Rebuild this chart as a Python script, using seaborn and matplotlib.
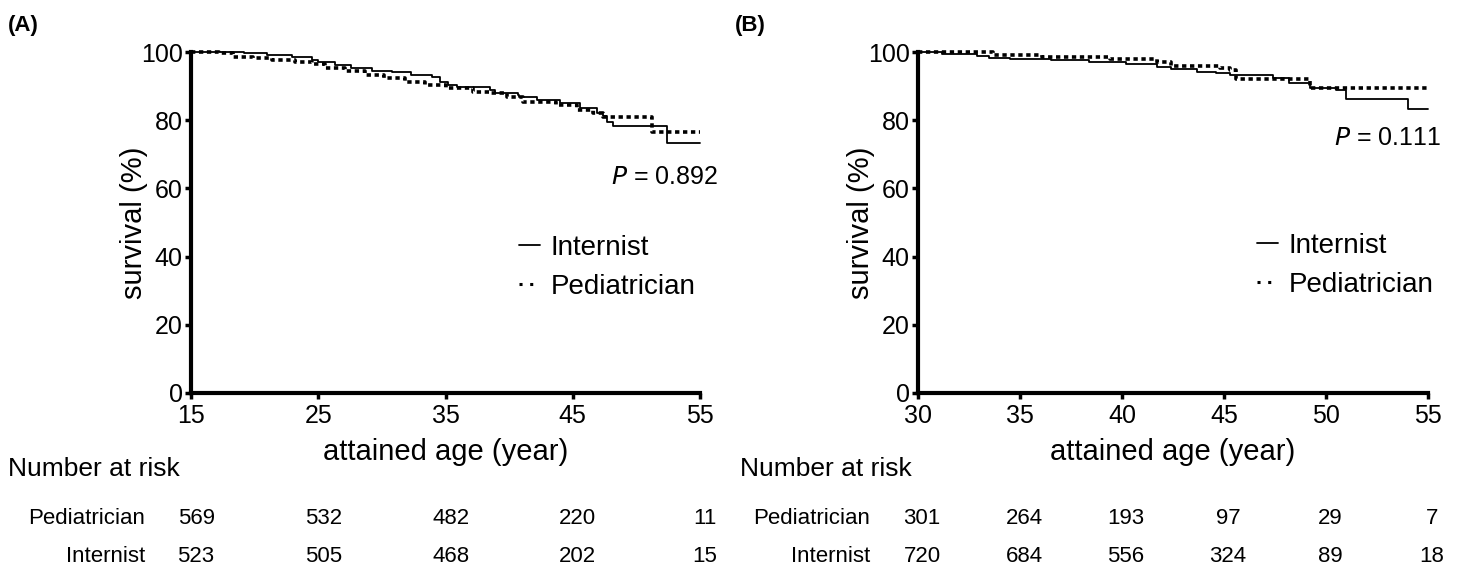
import matplotlib
matplotlib.use("Agg")
import matplotlib.pyplot as plt
import matplotlib.transforms as mtransforms
from matplotlib.lines import Line2D
import seaborn as sns
import pandas as pd

# ---------------- data ----------------
# Panel A: step change points (age, survival %)
a_int_age = [15, 17.5, 19.2, 21.0, 22.9, 24.5, 25.0, 26.3, 27.6, 29.2, 30.8, 32.3, 33.9, 34.6,
             35.2, 35.9, 38.5, 38.9, 40.7, 40.8, 42.2, 44.0, 45.6, 46.9, 47.4, 47.7, 48.2, 52.4, 55]
a_int_surv = [100, 99.9, 99.6, 99.2, 98.4, 97.8, 97.0, 96.2, 95.3, 94.5, 94.0, 93.4, 92.6, 91.2,
              90.4, 89.6, 88.9, 88.1, 87.4, 86.7, 85.9, 85.0, 83.5, 82.0, 81.2, 79.6, 78.3, 73.4, 73.4]
a_ped_age = [15, 17.2, 18.3, 19.9, 21.4, 23.2, 24.5, 25.5, 27.1, 28.7, 30.2, 31.8, 33.4, 35.0,
             37.2, 38.5, 39.8, 41.1, 43.7, 45.3, 46.6, 47.4, 51.2, 55]
a_ped_surv = [100, 99.6, 98.6, 98.1, 97.6, 97.0, 96.4, 95.4, 94.3, 93.3, 92.3, 91.3, 90.3, 89.4,
              88.4, 87.9, 86.7, 85.4, 84.5, 83.0, 82.0, 81.0, 76.6, 76.6]

# Panel B
b_int_age = [30, 31.2, 32.9, 33.5, 34.5, 36.5, 38.4, 40.2, 41.7, 42.4, 43.7, 44.6, 45.3, 47.4,
             48.2, 49.2, 50.5, 51.0, 54.0, 55]
b_int_surv = [100, 99.4, 98.9, 98.3, 97.9, 97.6, 97.0, 96.4, 95.5, 94.9, 94.2, 93.7, 93.3, 92.3,
              90.8, 89.4, 88.9, 86.1, 83.2, 83.2]
b_ped_age = [30, 33.7, 36.1, 39.4, 41.7, 42.4, 44.8, 45.3, 45.6, 49.2, 55]
b_ped_surv = [100, 99.1, 98.4, 97.9, 97.0, 96.0, 95.2, 94.7, 92.0, 89.3, 89.3]

a_ticks = [15, 25, 35, 45, 55]
b_ticks = [30, 35, 40, 45, 50, 55]
y_ticks = [0, 20, 40, 60, 80, 100]

a_risk_ped = [569, 532, 482, 220, 11]
a_risk_int = [523, 505, 468, 202, 15]
b_risk_ped = [301, 264, 193, 97, 29, 7]
b_risk_int = [720, 684, 556, 324, 89, 18]

a_pval = "0.892"
b_pval = "0.111"

# ---------------- style ----------------
sns.set_style("ticks")
plt.rcParams['font.family'] = ['Liberation Sans', 'DejaVu Sans']
plt.rcParams.update({"text.color": "black", "axes.labelcolor": "black",
                     "xtick.color": "black", "ytick.color": "black",
                     "axes.edgecolor": "black"})

fig = plt.figure(figsize=(14.61, 5.70), dpi=100)

W, H = 1461, 570
def ax_rect(x0, x1, ytop, ybot):
    return [x0 / W, 1 - ybot / H, (x1 - x0) / W, (ybot - ytop) / H]

axA = fig.add_axes(ax_rect(191, 700, 52, 393))
axB = fig.add_axes(ax_rect(918, 1428, 52, 393))

def draw_panel(ax, ia, isv, pa, psv, xlim, ticks, pval, ptxt_xy, leg_anchor):
    df_i = pd.DataFrame({"age": ia, "surv": isv})
    df_p = pd.DataFrame({"age": pa, "surv": psv})
    sns.lineplot(data=df_i, x="age", y="surv", ax=ax, color="black", lw=1.3,
                 drawstyle="steps-post", estimator=None, sort=False, clip_on=False)
    sns.lineplot(data=df_p, x="age", y="surv", ax=ax, color="black", lw=2.6,
                 linestyle=(0, (1.2, 1.0)), drawstyle="steps-post", estimator=None,
                 sort=False, clip_on=False)
    ax.set_xlim(*xlim)
    ax.set_ylim(0, 100)
    ax.set_xticks(ticks)
    ax.set_yticks(y_ticks)
    sns.despine(ax=ax)
    for s in ("left", "bottom"):
        ax.spines[s].set_linewidth(3)
    ax.tick_params(axis="both", length=4, width=2.5, labelsize=18, pad=2)
    ax.tick_params(axis="x", pad=4)
    ax.set_xlabel("attained age (year)", fontsize=21, labelpad=7)
    ax.set_ylabel("survival (%)", fontsize=21, labelpad=-5)
    ax.text(ptxt_xy[0], ptxt_xy[1], "$\\mathit{P}$ = " + pval, transform=ax.transAxes,
            ha="right", va="center", fontsize=18)
    handles = [Line2D([], [], color="black", lw=1.3),
               Line2D([], [], color="black", lw=2.2, linestyle=(0, (1.0, 2.5)))]
    ax.legend(handles, ["Internist", "Pediatrician"], loc="upper left",
              bbox_to_anchor=leg_anchor, frameon=False, fontsize=20,
              handlelength=0.75, handletextpad=0.4, labelspacing=0.45,
              borderaxespad=0, borderpad=0)

draw_panel(axA, a_int_age, a_int_surv, a_ped_age, a_ped_surv, (15, 55), a_ticks, a_pval,
           ((718 - 191) / 509, 1 - (177 - 52) / 341), ((519 - 191) / 509, 1 - (235 - 52) / 341))
draw_panel(axB, b_int_age, b_int_surv, b_ped_age, b_ped_surv, (30, 55), b_ticks, b_pval,
           ((1441 - 918) / 510, 1 - (138 - 52) / 341), ((1257 - 918) / 510, 1 - (233 - 52) / 341))

# panel letters
fig.text(8 / W, 1 - 25 / H, "(A)", fontsize=16, fontweight="bold", ha="left", va="center")
fig.text(735 / W, 1 - 25 / H, "(B)", fontsize=16, fontweight="bold", ha="left", va="center")

# number at risk tables
def risk_table(ax, x_text, x_rowlab, ticks, ped, inte):
    fig.text(x_text / W, 1 - 469 / H, "Number at risk", fontsize=19, ha="left", va="center")
    fig.text(x_rowlab / W, 1 - 518 / H, "Pediatrician", fontsize=16, ha="right", va="center")
    fig.text(x_rowlab / W, 1 - 557 / H, "Internist", fontsize=16, ha="right", va="center")
    tr = mtransforms.blended_transform_factory(ax.transData, fig.transFigure)
    for t, p, i in zip(ticks, ped, inte):
        ax.text(t, 1 - 518 / H, str(p), transform=tr, fontsize=16, ha="center", va="center")
        ax.text(t, 1 - 557 / H, str(i), transform=tr, fontsize=16, ha="center", va="center")

risk_table(axA, 8, 145, [x + 0.4 for x in a_ticks], a_risk_ped, a_risk_int)
risk_table(axB, 740, 870, [x + 0.2 for x in b_ticks], b_risk_ped, b_risk_int)

fig.savefig("out.png", dpi=100)
